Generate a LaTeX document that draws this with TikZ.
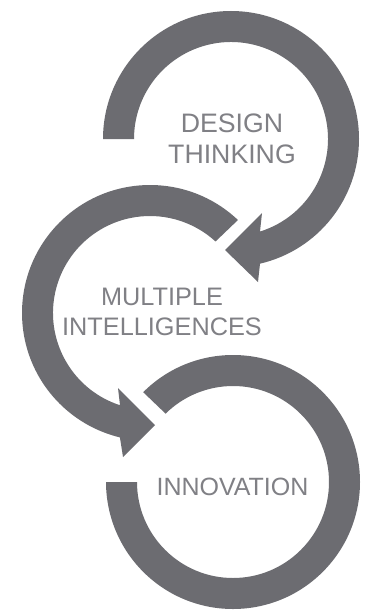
\documentclass[tikz,border=0pt]{standalone}
\usepackage{fontspec}
\setmainfont{Liberation Sans}
\usetikzlibrary{calc}
\definecolor{band}{RGB}{108,108,113}
\definecolor{txt}{RGB}{128,128,133}
\begin{document}
\begin{tikzpicture}[x=1pt,y=1pt,
  bandfill/.style={fill=band, draw=none},
  lbl/.style={text=txt, inner sep=0pt, anchor=base},
  bigtxt/.style={font=\fontsize{26.7}{31}\selectfont},
  midtxt/.style={font=\fontsize{25.3}{30}\selectfont},
  smltxt/.style={font=\fontsize{25}{30}\selectfont}]
\useasboundingbox (0,0) rectangle (366,-610);
\fill[white] (0,0) rectangle (366,-610);
\coordinate (ct) at (231,-139);
\coordinate (cm) at (150,-313);
\coordinate (cb) at (233,-482);

% top arc: DESIGN THINKING
\path[bandfill] ($(ct)+(180:128pt)$) arc[start angle=180, end angle=-76.9, radius=128pt]
  -- (258,-282) -- (225,-250) -- (262,-213)
  -- ($(ct)+(-72.6:97pt)$) arc[start angle=-72.6, end angle=180, radius=97pt] -- cycle;

% middle arc: MULTIPLE INTELLIGENCES
\path[bandfill] ($(cm)+(46.6:128pt)$) arc[start angle=46.6, end angle=256.4, radius=128pt]
  -- (123,-457) -- (155,-425) -- (118,-388)
  -- ($(cm)+(252:97pt)$) arc[start angle=252, end angle=47.5, radius=97pt] -- cycle;

% bottom arc: INNOVATION
\path[bandfill] ($(cb)+(135:127pt)$) arc[start angle=135, end angle=-180, radius=127pt]
  -- ($(cb)+(180:96pt)$) arc[start angle=-180, end angle=134.6, radius=96pt] -- cycle;

\node[lbl, bigtxt] (design) at (232,-132) {DESIGN};
\node[lbl, bigtxt] (thinking) at (232,-163) {THINKING};
\node[lbl, midtxt] (multiple) at (162,-305) {MULTIPLE};
\node[lbl, midtxt] (intel) at (162,-335) {INTELLIGENCES};
\node[lbl, smltxt] (innov) at (232.5,-495) {INNOVATION};
\end{tikzpicture}
\end{document}
